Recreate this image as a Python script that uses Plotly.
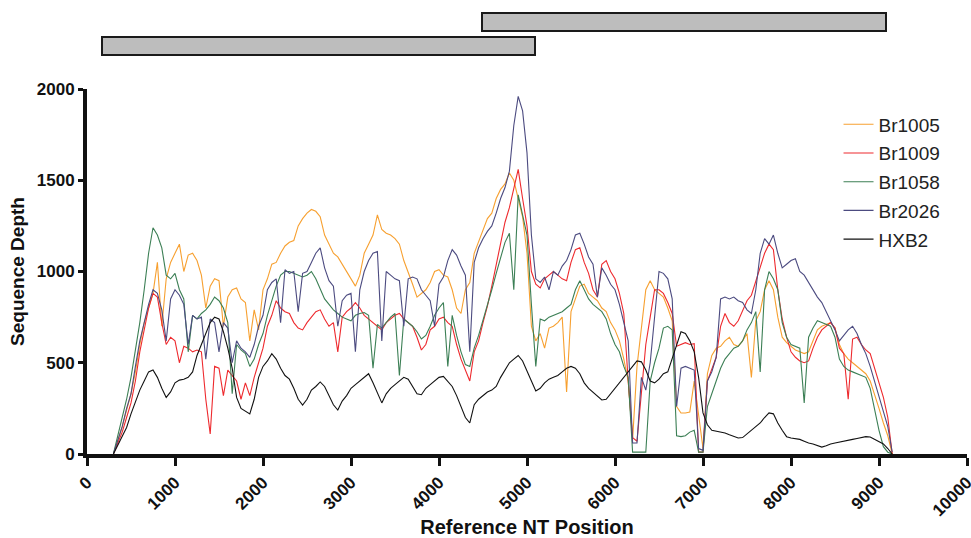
import plotly.graph_objects as go

# ---------------- data ----------------
positions = list(range(300, 9151, 50))

br1005 = [
    0, 70, 150, 240, 330, 450, 600, 720, 800, 880,
    1050, 700, 960, 1050, 1100, 1150, 1000, 1090, 1100, 1060,
    980, 800, 920, 960, 950, 700, 860, 900, 910, 850,
    830, 620, 790, 680, 900, 960, 1040, 1050, 1100, 1140,
    1160, 1170, 1250, 1290, 1320, 1340, 1330, 1300, 1200, 1150,
    1100, 1080, 1040, 1000, 960, 920, 980, 1100, 1150, 1200,
    1310, 1230, 1210, 1200, 1180, 1150, 1060, 1000, 930, 860,
    880, 900, 940, 1000, 1010, 980, 970, 900, 800, 770,
    900, 940, 1100, 1160, 1230, 1290, 1320, 1400, 1450, 1480,
    1540, 1500, 1400, 1300, 1100, 700, 620, 660, 580, 690,
    700, 720, 750, 340, 780, 850, 920, 930, 880, 860,
    840, 800, 780, 720, 680, 620, 520, 400, 80, 480,
    700, 900, 950, 900, 880, 860, 800, 730, 260, 225,
    225, 230, 400, 225, 30, 440, 540, 580, 590, 620,
    640, 600, 590, 620, 660, 420, 730, 780, 900, 950,
    900, 750, 640, 610, 590, 570, 560, 550, 560, 620,
    680, 700, 710, 720, 690, 600, 550, 520, 500, 480,
    460, 440, 400, 330, 250, 170, 100, 0,
]

br1009 = [
    0, 60, 120, 200, 280, 400, 560, 680, 800, 880,
    860, 720, 600, 640, 620, 500, 590, 580, 560, 570,
    560, 300, 110, 480, 470, 320, 460, 430, 400, 300,
    390, 320, 420, 500, 580, 700, 760, 840, 800, 780,
    770, 720, 690, 680, 720, 750, 780, 790, 740, 700,
    720, 560, 750, 780, 800, 830, 800, 760, 740, 720,
    700, 680, 720, 740, 760, 770, 740, 720, 700, 640,
    570, 600, 680, 700, 740, 750, 720, 700, 600, 520,
    460, 400, 560, 620, 720, 810, 920, 1040, 1150, 1270,
    1350, 1450, 1560, 1400, 1250, 1000, 930, 910, 960, 980,
    1000, 980, 960, 950, 1050, 1120, 1130, 1050, 990, 900,
    860, 1040, 1060, 1000, 960, 880, 770, 400, 90, 70,
    340, 600, 750, 900, 900, 880, 830, 770, 590, 600,
    610, 600, 605, 10, 10, 400, 470, 530, 700, 770,
    720, 700, 730, 790, 840, 870, 950, 1030, 1100, 1150,
    1120, 900, 740, 640, 560, 530, 510, 500, 510, 580,
    640, 680, 700, 720, 690, 580, 550, 300, 630, 640,
    600, 570, 550, 470, 390, 310, 200, 0,
]

br1058 = [
    0, 100, 200, 300, 420, 560, 720, 900, 1100, 1240,
    1200, 1130, 980, 960, 990, 900, 850, 560, 760, 740,
    770, 790, 820, 860, 840, 800, 720, 330, 600, 570,
    550, 480, 520, 600, 660, 760, 840, 920, 980, 1000,
    1000, 990, 980, 970, 980, 1000, 960, 900, 850, 820,
    790, 770, 750, 740, 730, 760, 770, 775, 760, 470,
    710, 690, 720, 750, 770, 430, 740, 720, 700, 670,
    630, 650, 700, 760, 800, 830, 480, 760, 650, 560,
    490, 480, 580, 650, 730, 810, 900, 990, 1080, 1160,
    1210, 900, 1420, 1300, 1200, 820, 480, 740, 730, 750,
    760, 770, 780, 800, 820, 900, 950, 900, 850, 820,
    800, 780, 740, 660, 600, 560, 480, 420, 10, 10,
    10, 10, 400, 500, 580, 690, 700, 680, 100, 95,
    100, 120, 130, 10, 10, 260, 330, 400, 470, 520,
    550, 580, 590, 620, 680, 720, 780, 450, 900, 1000,
    960, 900, 720, 640, 600, 590, 580, 280, 640, 690,
    730, 720, 710, 700, 640, 520, 480, 460, 450, 440,
    430, 420, 360, 240, 130, 40, 10, 0,
]

br2026 = [
    0, 80, 150, 250, 330, 480, 620, 720, 820, 900,
    880, 790, 620, 850, 900, 870, 820, 600, 760, 740,
    750, 520, 740, 720, 560, 720, 690, 500, 620, 580,
    560, 530, 600, 700, 760, 900, 940, 960, 720, 1010,
    990, 1000, 780, 990, 1000, 1050, 1100, 1130, 1020, 950,
    920, 700, 840, 870, 880, 560, 900, 1000, 1060, 1100,
    1110, 620, 1000, 980, 960, 950, 700, 960, 970, 960,
    900, 870, 840, 700, 930, 970, 1060, 1120, 1090, 1030,
    980, 560, 1050, 1130, 1180, 1220, 1250, 1320, 1400, 1460,
    1550, 1800, 1960, 1880, 1650, 1200, 960, 940, 970, 900,
    1000, 980, 1030, 1060, 1120, 1200, 1210, 1150, 1080, 1040,
    860, 1020, 980, 930, 900, 820, 720, 620, 60, 60,
    420, 350, 500, 750, 1000, 990, 960, 850, 260, 470,
    480, 470, 460, 30, 20, 400, 450, 530, 850, 860,
    850, 860, 840, 830, 790, 770, 900, 1100, 1180, 1150,
    1200, 1100, 1020, 1040, 1060, 1070, 1000, 980, 940, 900,
    860, 830, 780, 730, 680, 620, 650, 680, 700, 660,
    600, 550, 480, 400, 320, 240, 150, 10,
]

hxb2 = [
    0, 50, 100, 145, 220, 290, 350, 400, 450, 460,
    420, 360, 310, 340, 390, 405, 410, 420, 450, 540,
    600, 660, 720, 750, 740, 670, 580, 470, 310, 250,
    235, 220, 300, 420, 480, 510, 550, 520, 470, 430,
    410, 360, 300, 268, 300, 350, 370, 395, 370, 320,
    270, 241, 290, 320, 360, 380, 400, 420, 440, 390,
    330, 280, 330, 360, 380, 400, 420, 410, 370, 330,
    325, 360, 380, 400, 420, 425, 400, 370, 320, 260,
    200, 170, 270, 300, 320, 340, 350, 370, 420, 460,
    500, 520, 540, 510, 450, 400, 345, 360, 390, 410,
    420, 430, 450, 470, 480, 470, 440, 390, 360, 340,
    320, 296, 300, 330, 360, 389, 420, 450, 480, 510,
    505, 460, 400, 390, 410, 440, 450, 520, 590, 670,
    660, 620, 560, 420, 225, 160, 130, 125, 120, 115,
    105, 95, 88, 90, 110, 130, 150, 170, 200, 225,
    220, 170, 130, 95, 88, 85, 80, 70, 60, 55,
    45, 38, 45, 55, 60, 66, 70, 75, 80, 85,
    90, 95, 93, 80, 70, 55, 30, 0,
]

series_names = ["Br1005", "Br1009", "Br1058", "Br2026", "HXB2"]
series_values = [br1005, br1009, br1058, br2026, hxb2]
series_colors = ["#f7a030", "#ee2a2e", "#3c7f55", "#4c4b80", "#111111"]

# amplicon bars (start, end) in NT positions
amplicon_starts = [170, 4490]
amplicon_ends = [5095, 9085]
amplicon_rows = [0, 1]

x_ticks = list(range(0, 10001, 1000))
y_ticks = [0, 500, 1000, 1500, 2000]

# ---------------- figure ----------------
fig = go.Figure()

for i, (name, vals, col) in enumerate(zip(series_names, series_values, series_colors)):
    fig.add_trace(go.Scatter(
        x=positions, y=vals, mode="lines", name=name,
        line=dict(color=col, width=1.1),
        legendgroup=name,
    ))

fig.add_trace(go.Bar(
    x=[e - s for s, e in zip(amplicon_starts, amplicon_ends)],
    base=amplicon_starts,
    y=amplicon_rows,
    orientation="h",
    yaxis="y2",
    width=0.78,
    marker=dict(color="#bdbdbd", line=dict(color="#1a1a1a", width=2)),
    showlegend=False,
    hoverinfo="skip",
))

bold = dict(family="Liberation Sans, Arial, sans-serif", color="#111111", weight="bold")

fig.update_layout(
    width=971, height=538,
    margin=dict(l=87, r=4, t=10, b=84),
    paper_bgcolor="white", plot_bgcolor="white",
    showlegend=True,
    legend=dict(
        x=0.854, y=0.785, xanchor="left", yanchor="top",
        font=dict(family="Liberation Sans, Arial, sans-serif", size=19, color="#222222"),
        bgcolor="rgba(0,0,0,0)", tracegroupgap=1, traceorder="grouped",
    ),
    xaxis=dict(
        range=[0, 10000], tickvals=x_ticks, ticktext=[str(v) for v in x_ticks],
        tickangle=-45, tickfont=dict(size=17, **bold), automargin=False,
        ticklabeloverflow="allow",
        showline=True, linecolor="#111111", linewidth=4,
        ticks="outside", ticklen=8, tickwidth=3, tickcolor="#111111",
        showgrid=False, zeroline=False,
        title=dict(text="Reference NT Position", font=dict(size=20, **bold), standoff=8),
    ),
    yaxis=dict(
        domain=[0, 0.822], range=[0, 2000], tickvals=y_ticks,
        tickfont=dict(size=17, **bold), automargin=False,
        showline=True, linecolor="#111111", linewidth=4,
        ticks="outside", ticklen=5, tickwidth=3, tickcolor="#111111",
        showgrid=False, zeroline=False,
        title=dict(text="Sequence Depth", font=dict(size=19, **bold), standoff=8),
    ),
    yaxis2=dict(
        domain=[0.892, 1.0], range=[-0.5, 1.5], anchor="x",
        visible=False, showgrid=False, zeroline=False, fixedrange=True,
    ),
    bargap=0,
)

fig.write_html(
    "out.html",
    config={"displayModeBar": False},
    post_script="document.body.style.margin='0';document.body.style.padding='0';",
)
